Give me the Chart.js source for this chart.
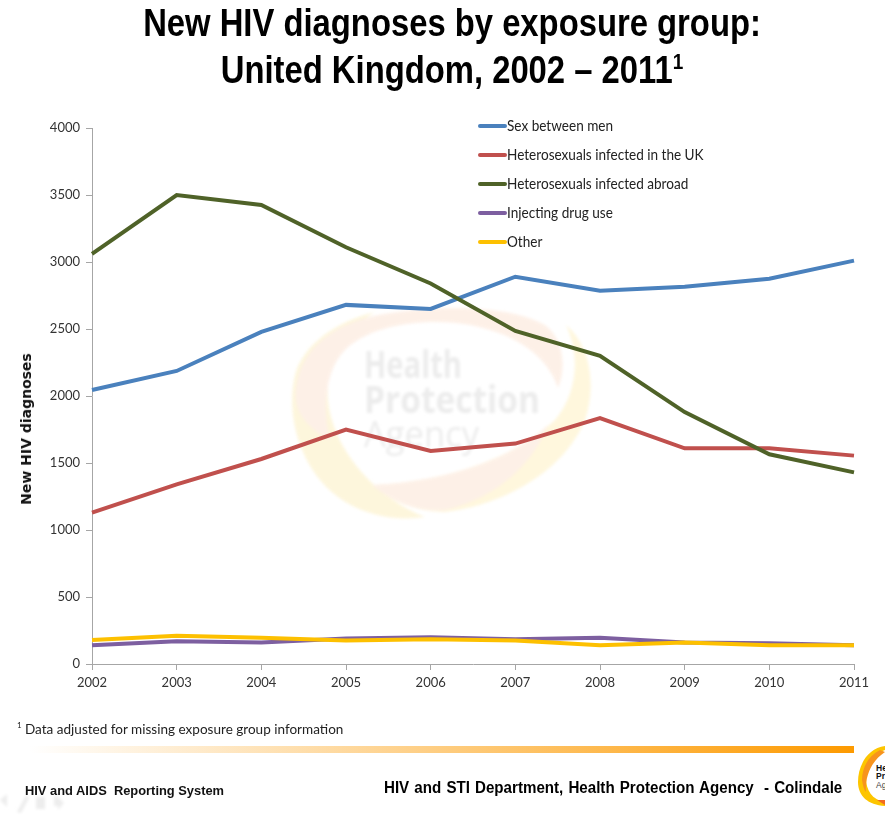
<!DOCTYPE html>
<html><head><meta charset="utf-8">
<script src="https://cdn.jsdelivr.net/npm/chart.js@4"></script>
<style>
html,body{margin:0;padding:0;background:#fff;width:885px;height:817px;overflow:hidden}
#stage{position:relative;width:885px;height:817px;overflow:hidden;background:#fff}
#stage>*{position:absolute}
canvas{left:0;top:0}
.t{white-space:nowrap;transform-origin:left top}
#title{left:452px;top:0;width:800px;margin-left:-400px;text-align:center;font:bold 38px/47px "Liberation Sans",sans-serif;color:#000;transform:scaleX(.863);transform-origin:center top}
#title sup{font-size:22px;line-height:0}
#legend{left:478px;top:111px;font:15px/29px Lato,sans-serif;color:#222}
#legend div{display:flex;align-items:center;height:29px;white-space:nowrap}
#legend i{display:block;width:29px;height:4px;border-radius:2px}
#legend span{display:inline-block;transform:scaleX(.905);transform-origin:left center}
#ylab{left:26px;top:429px;font:bold 14px "DejaVu Sans",sans-serif;color:#111;white-space:nowrap;transform:translate(-50%,-50%) rotate(-90deg)}
#note{left:17px;top:720px;font:14px Lato,sans-serif;color:#222}
#note span{display:inline-block;transform:scaleX(.967);transform-origin:left center}
#bar{left:30px;top:746px;width:824px;height:7px;background:linear-gradient(90deg,#fff,#fd9a00)}
#f1{left:25px;top:783px;font:bold 13px "Liberation Sans",sans-serif;color:#111;transform:scaleX(.99)}
#f2{left:384px;top:779px;font:bold 16px "Liberation Sans",sans-serif;color:#000;word-spacing:1px;transform:scaleX(.945)}
</style></head><body>
<div id="stage">
<svg style="left:0;top:0" width="885" height="817" viewBox="0 0 885 817">
  <defs><filter id="b" x="-10%" y="-10%" width="120%" height="120%"><feGaussianBlur stdDeviation="1.6"/></filter></defs>
  <g filter="url(#b)" opacity=".72">
    <path d="M425 517C385 523 345 510 320 480C296 450 287 410 295 375C303 345 335 322 375 312C345 330 325 360 328 400C332 445 370 495 425 517Z" fill="#fdf3cf"/>
    <path d="M566 325C590 345 597 385 585 420C565 470 505 505 445 512C415 512 390 500 372 485C440 482 510 462 555 420C578 392 580 355 566 325Z" fill="#fff4d0"/>
    <path d="M372 485C440 482 510 462 548 425C530 470 490 500 445 510C415 512 390 500 372 485Z" fill="#fdebdf"/>
    <path d="M296 390C300 345 340 320 390 313C440 305 510 305 545 325C565 340 566 370 558 388C548 358 520 335 470 325C425 317 370 325 345 350C325 370 322 410 330 440C312 430 293 415 296 390Z" fill="#fdebdf"/>
  </g>
  <g font-family="'Open Sans','Noto Sans',sans-serif" font-weight="700" fill="#ececec" font-size="37" filter="url(#b)">
    <text x="364" y="378" textLength="98" lengthAdjust="spacingAndGlyphs">Health</text>
    <text x="364" y="413" textLength="176" lengthAdjust="spacingAndGlyphs">Protection</text>
    <text x="364" y="447" font-weight="400" textLength="115" lengthAdjust="spacingAndGlyphs">Agency</text>
  </g>
  <g fill="#ededed" filter="url(#b)">
    <path d="M0 800L7 794V807Z"/><path d="M17 812L26 795L29 798L21 813Z"/>
    <rect x="36" y="797" width="9" height="12"/><path d="M57 796L64 803L58 810V806L54 806V796Z"/>
  </g>
  <path d="M885 746C868 748 858 765 858 782C858 796 868 805 885 806V802C872 800 866 790 866 778C866 764 874 754 885 750Z" fill="#fdc500"/>
  <path d="M880 750C868 756 862 768 862 780C863 786 864 790 866 792C865 778 870 762 885 752Z" fill="#f7941d"/>
  <path d="M877 800L885 800V805Z" fill="#f26a21"/>
  <g font-family="'Liberation Sans',sans-serif" font-size="8.5" font-weight="700" fill="#111">
    <text x="876" y="771">He</text><text x="876" y="779">Pr</text><text x="876" y="788" font-weight="400" fill="#444">Ag</text>
  </g>
</svg>
<div id="title">New HIV diagnoses by exposure group:<br>United Kingdom, 2002 – 2011<sup>1</sup></div>
<canvas id="chart" width="885" height="817"></canvas>
<div id="legend"></div>
<div id="ylab">New HIV diagnoses</div>
<div id="note" class="t"><sup style="font-size:8px;line-height:0;vertical-align:6px">1</sup> <span>Data adjusted for missing exposure group information</span></div>
<div id="bar"></div>
<div id="f1" class="t">HIV and AIDS&nbsp; Reporting System</div>
<div id="f2" class="t">HIV and STI Department, Health Protection Agency&nbsp; - Colindale</div>
</div>
<script>
const years = ["2002","2003","2004","2005","2006","2007","2008","2009","2010","2011"];
const sexBetweenMen = [2045,2187,2478,2680,2650,2890,2785,2815,2875,3010];
const heteroUK = [1130,1340,1530,1750,1590,1645,1835,1610,1610,1555];
const heteroAbroad = [3060,3500,3425,3110,2840,2485,2300,1880,1565,1430];
const injectingDrugUse = [140,170,160,190,200,185,195,160,155,140];
const other = [180,210,195,175,185,175,140,160,140,140];
const yTicks = [0,500,1000,1500,2000,2500,3000,3500,4000];

const ds = (label,data,color,order)=>({label,data,order,borderColor:color,backgroundColor:color,borderWidth:4,pointRadius:0,tension:0,fill:false});
const chart = new Chart(document.getElementById('chart'),{
  type:'line',
  data:{labels:years,datasets:[
    ds('Sex between men',sexBetweenMen,'#4a81bd',5),
    ds('Heterosexuals infected in the UK',heteroUK,'#c0504d',4),
    ds('Heterosexuals infected abroad',heteroAbroad,'#4f6228',3),
    ds('Injecting drug use',injectingDrugUse,'#7d5fa0',2),
    ds('Other',other,'#fdc000',1)
  ]},
  options:{
    responsive:false,animation:false,
    layout:{padding:{top:128,right:31,bottom:123,left:0}},
    plugins:{legend:{display:false},title:{display:false},tooltip:{enabled:false}},
    scales:{
      x:{offset:false,
        grid:{drawOnChartArea:false,drawTicks:true,tickLength:6,color:'#a6a6a6'},
        border:{color:'#a6a6a6'},
        ticks:{color:'#333',font:{family:'Lato',size:13},padding:5,maxRotation:0,autoSkip:false},
        afterFit(s){s.height=30}},
      y:{min:0,max:4000,
        afterBuildTicks(s){s.ticks=yTicks.map(value=>({value}))},
        grid:{drawOnChartArea:false,drawTicks:true,tickLength:6,color:'#a6a6a6'},
        border:{color:'#a6a6a6'},
        ticks:{color:'#333',font:{family:'Lato',size:13},padding:6,callback:v=>String(v)},
        afterFit(s){s.width=92}}
    }
  }
});
const lg=document.getElementById('legend');
chart.data.datasets.forEach(d=>{
  const row=document.createElement('div');
  const sw=document.createElement('i');sw.style.background=d.borderColor;
  const tx=document.createElement('span');tx.textContent=d.label;
  row.append(sw,tx);lg.append(row);
});
</script>
</body></html>
